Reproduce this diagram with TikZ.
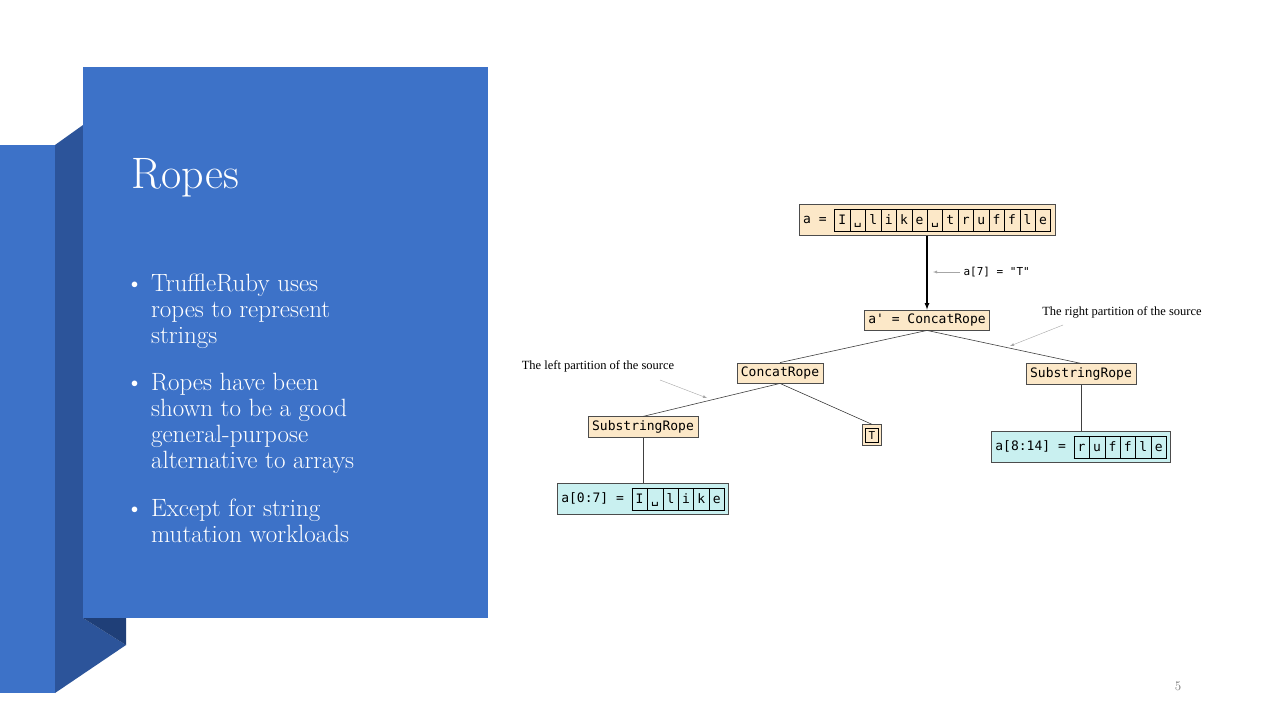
\documentclass[tikz,border=0pt]{standalone}
\usepackage{fontspec}
\newfontfamily\mono{DejaVu Sans Mono}
\newfontfamily\tms{Liberation Serif}
\usepackage{array}
\definecolor{slide}{HTML}{3D72C8}
\definecolor{slidedk}{HTML}{2C549A}
\definecolor{slidedk2}{HTML}{1F3F78}
\definecolor{tan}{HTML}{FCE8C8}
\definecolor{cyanb}{HTML}{C9F0F0}
\newcommand{\cells}[1]{{\setlength\tabcolsep{3.6pt}\renewcommand\arraystretch{1.45}\begin{tabular}{#1}\hline}}
\tikzset{
 tanbox/.style={draw=black!70,fill=tan,font=\mono\fontsize{13}{15}\selectfont,inner sep=4pt,line width=0.5pt},
 cyanbox/.style={draw=black!70,fill=cyanb,font=\mono\fontsize{13}{15}\selectfont,inner sep=4pt,line width=0.5pt},
 edge/.style={draw=black!75,line width=0.6pt},
 note/.style={font=\tms\fontsize{12.5}{14}\selectfont},
 notearr/.style={draw=black!35,line width=0.4pt,-latex},
 bul/.style={anchor=west,text=white,font=\fontsize{25}{28}\selectfont,align=left}
}
\begin{document}
\begin{tikzpicture}[x=1pt,y=-1pt]
\useasboundingbox (0,0) rectangle (1280,720);
\fill[white] (0,0) rectangle (1280,720);
% slide decoration
\fill[slide] (0,145) rectangle (55,693);
\fill[slidedk] (55,145) -- (83,125) -- (83,618) -- (126,645) -- (55,693) -- cycle;
\fill[slidedk2] (83,618) -- (126,618) -- (126,645) -- cycle;
\fill[slide] (83,67) rectangle (488,618);
\node[anchor=west,text=white,font=\fontsize{44}{50}\selectfont] (title) at (128,178) {Ropes};
\node[bul] (b1) at (122,311) {\textbullet\ \parbox[t]{260pt}{TruffleRuby uses\\[-2pt] ropes to represent\\[-2pt] strings}};
\node[bul] (b2) at (122,423) {\textbullet\ \parbox[t]{280pt}{Ropes have been\\[-2pt] shown to be a good\\[-2pt] general-purpose\\[-2pt] alternative to arrays}};
\node[bul] (b3) at (122,521) {\textbullet\ \parbox[t]{280pt}{Except for string\\[-2pt] mutation workloads}};
% diagram
\node[tanbox] (a) at (927,220) {a = {\setlength\tabcolsep{3.6pt}\renewcommand\arraystretch{1.45}\begin{tabular}{|c|c|c|c|c|c|c|c|c|c|c|c|c|c|}\hline I&\textvisiblespace&l&i&k&e&\textvisiblespace&t&r&u&f&f&l&e\\\hline\end{tabular}}};
\node[tanbox] (ap) at (927,320) {a' = ConcatRope};
\draw[line width=1.2pt,-latex] (a) -- (ap);
\node[font=\mono\fontsize{11}{13}\selectfont,anchor=west] (lab) at (960,272) {a[7] = "T"};
\coordinate (labend) at (933,272);
\draw[notearr] (lab.west) -- (labend);
\node[tanbox] (cr) at (780,373) {ConcatRope};
\node[tanbox] (srr) at (1081,374) {SubstringRope};
\node[tanbox] (srl) at (643,427) {SubstringRope};
\node[tanbox,inner sep=3pt] (t) at (872,435) {\setlength\fboxsep{3pt}\fbox{\fontsize{11}{13}\selectfont T}};
\node[cyanbox] (r) at (1081,447) {a[8:14] = {\setlength\tabcolsep{3.6pt}\renewcommand\arraystretch{1.45}\begin{tabular}{|c|c|c|c|c|c|}\hline r&u&f&f&l&e\\\hline\end{tabular}}};
\node[cyanbox] (l) at (643,499) {a[0:7] = {\setlength\tabcolsep{3.6pt}\renewcommand\arraystretch{1.45}\begin{tabular}{|c|c|c|c|c|c|}\hline I&\textvisiblespace&l&i&k&e\\\hline\end{tabular}}};
\draw[edge] (ap.south) -- (cr.north);
\draw[edge] (ap.south) -- (srr.north);
\draw[edge] (cr.south) -- (srl.north);
\draw[edge] (cr.south) -- (t.north);
\draw[edge] (srr.south) -- (r.north);
\draw[edge] (srl.south) -- (l.north);
\node[note] (rn) at (1122,312) {The right partition of the source};
\coordinate (rne) at (1010,346);
\draw[notearr] (1063,325) -- (rne);
\node[note] (ln) at (598,366) {The left partition of the source};
\coordinate (lne) at (707,398);
\draw[notearr] (660,380) -- (lne);
\node[text=black!55,font=\fontsize{13}{15}\selectfont] (pg) at (1178,686) {5};
\end{tikzpicture}
\end{document}
